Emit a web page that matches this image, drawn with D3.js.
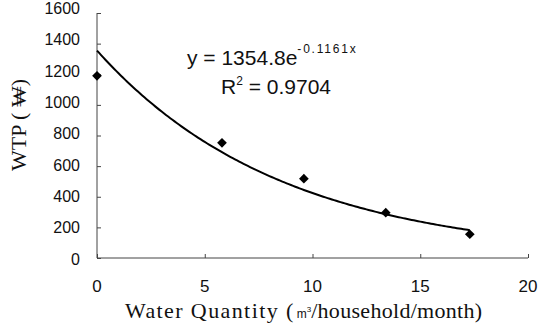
<!DOCTYPE html>
<html><head><meta charset="utf-8">
<script src="https://cdn.jsdelivr.net/npm/d3@7"></script>
<style>body{margin:0;background:#fff}svg{display:block}</style>
</head><body>
<script>
const xValues = [0, 5.8, 9.6, 13.4, 17.3];
const yValues = [1190, 752, 518, 296, 155];
const xTicks = [0, 5, 10, 15, 20];
const yTicks = [0, 200, 400, 600, 800, 1000, 1200, 1400, 1600];
const fitA = 1354.8, fitB = -0.1161;
const fitRange = [0, 17.3];
const eqText = "y = 1354.8e";
const eqExp = "-0.1161x";
const r2Text = " = 0.9704";

const W = 540, H = 327;
const svg = d3.select("body").append("svg").attr("width", W).attr("height", H);
const x = d3.scaleLinear().domain([0, 20]).range([97, 528]);
const y = d3.scaleLinear().domain([0, 1600]).range([258, 13]);
const sans = "Liberation Sans, Arial, sans-serif";
const serif = "Liberation Serif, Times New Roman, serif";

const yAxis = svg.append("g").attr("transform", "translate(97,0)")
  .call(d3.axisRight(y).tickValues(yTicks).tickSize(4).tickFormat(""));
yAxis.select(".domain").attr("stroke", "#444").attr("d", `M0,${y(1600)}V${y(0)}`);
yAxis.selectAll(".tick line").attr("stroke", "#444");

const xAxis = svg.append("g").attr("transform", "translate(0,258)")
  .call(d3.axisTop(x).tickValues(xTicks).tickSize(4).tickFormat(""));
xAxis.select(".domain").attr("stroke", "#444").attr("d", `M${x(0)},0H${x(20)}`);
xAxis.selectAll(".tick line").attr("stroke", "#444");

svg.append("g").selectAll("text").data(yTicks).join("text")
  .attr("x", 80).attr("y", d => y(d) + 6.5 - d / 1600 * 5.5)
  .attr("text-anchor", "end")
  .attr("font-family", sans).attr("font-size", 16)
  .attr("fill", "#111").text(d => d);

svg.append("g").selectAll("text").data(xTicks).join("text")
  .attr("x", d => x(d)).attr("y", 292)
  .attr("text-anchor", "middle")
  .attr("font-family", sans).attr("font-size", 17)
  .attr("fill", "#111").text(d => d);

// axis titles
const xt = svg.append("text").attr("x", 125).attr("y", 318)
  .attr("font-family", serif).attr("font-size", 22).attr("fill", "#111");
xt.append("tspan").attr("letter-spacing", "1.4px").text("Water Quantity (");
xt.append("tspan").attr("font-family", sans).attr("font-size", 12).attr("dx", 2).text("m");
xt.append("tspan").attr("font-family", sans).attr("font-size", 8).attr("dy", -6).text("3");
xt.append("tspan").attr("dy", 6).attr("letter-spacing", "0.3px").text("/household/month)");

svg.append("text").attr("transform", "translate(26,125) rotate(-90)")
  .attr("text-anchor", "middle")
  .attr("font-family", serif).attr("font-size", 22)
  .attr("fill", "#111").text("WTP ( \u20A9)");

// trend line
const fitX = d3.range(fitRange[0], fitRange[1] + 0.001, 0.1);
const line = d3.line().x(d => x(d)).y(d => y(fitA * Math.exp(fitB * d)));
svg.append("path").datum(fitX).attr("d", line)
  .attr("fill", "none").attr("stroke", "#000").attr("stroke-width", 2);

// points
const pts = xValues.map((v, i) => [v, yValues[i]]);
svg.append("g").selectAll("path").data(pts).join("path")
  .attr("transform", d => `translate(${x(d[0])},${y(d[1])})`)
  .attr("d", d3.symbol().type(d3.symbolDiamond2).size(60))
  .attr("fill", "#000");

// equation
const eq = svg.append("text").attr("x", 187).attr("y", 65)
  .attr("font-family", sans).attr("font-size", 21).attr("fill", "#111");
eq.append("tspan").text(eqText);
eq.append("tspan").attr("font-size", 12).attr("letter-spacing", "1.8px").attr("dy", -12).text(eqExp);

const r2 = svg.append("text").attr("x", 221).attr("y", 94)
  .attr("font-family", sans).attr("font-size", 21).attr("fill", "#111");
r2.append("tspan").text("R");
r2.append("tspan").attr("font-size", 12).attr("dy", -9).text("2");
r2.append("tspan").attr("dy", 9).text(r2Text);
</script>
</body></html>
